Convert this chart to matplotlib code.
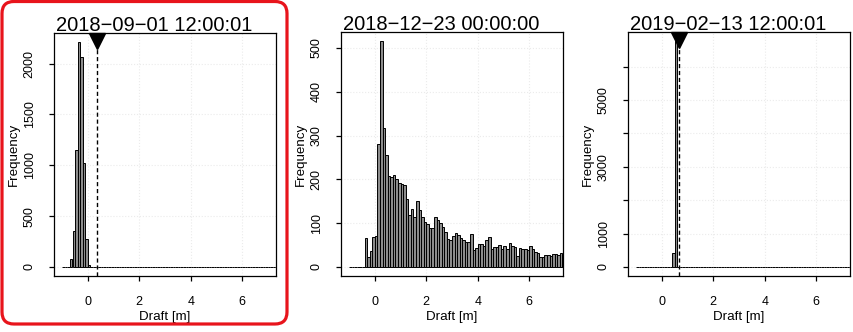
import numpy as np
import matplotlib
matplotlib.use("Agg")
import matplotlib.pyplot as plt
from matplotlib.patches import FancyBboxPatch
from matplotlib.transforms import IdentityTransform

plt.rcParams['font.family'] = ['Liberation Sans', 'DejaVu Sans']

# ---------------- data ----------------
titles = ["2018\u221209\u221201 12:00:01",
          "2018\u221212\u221223 00:00:00",
          "2019\u221202\u221213 12:00:01"]

bin_start = -1.0
bin_width = 0.1

counts_sep = [0, 0, 0,
              75, 358, 1146, 2213, 2066, 1021, 276, 20] + [0] * 73

counts_dec = [0, 0, 0, 0, 0, 0,
              66, 23, 37, 68, 70,
              281, 516, 318, 255, 208, 205, 210, 200, 192, 190,
              188, 155, 119, 132, 115, 150, 131, 115, 102, 98,
              89, 90, 113, 108, 100, 92, 80, 63, 62, 70,
              77, 73, 67, 62, 58, 57, 76, 39, 44, 53,
              52, 48, 62, 68, 40, 45, 45, 50, 40, 47,
              40, 55, 49, 45, 26, 43, 42, 40, 38, 47,
              42, 35, 31, 22, 23, 27, 28, 26, 29, 30,
              28, 32, 30]

counts_feb = [0] * 14 + [430, 6770] + [0] * 68

all_counts = [counts_sep, counts_dec, counts_feb]
level_marks = [0.36, None, 0.65]

xticks = [0, 2, 4, 6]
xtick_labels = ["0", "2", "4", "6"]
yticks_list = [[0, 500, 1000, 1500, 2000],
               [0, 100, 200, 300, 400, 500],
               [0, 1000, 2000, 3000, 4000, 5000, 6000]]
ytick_labels_list = [["0", "500", "1000", "1500", "2000"],
                     ["0", "100", "200", "300", "400", "500"],
                     ["0", "1000", "", "3000", "", "5000", ""]]
x_range = (-1.0, 7.0)

# ---------------- figure ----------------
W, H = 854, 332
fig = plt.figure(figsize=(W / 100, H / 100), dpi=100)

boxes = [(54, 33, 276, 276), (341, 32, 563, 276), (628, 32, 850, 276)]

for i, (l, t, r, b) in enumerate(boxes):
    ax = fig.add_axes([l / W, (H - b) / H, (r - l) / W, (b - t) / H])
    counts = np.array(all_counts[i])
    lefts = bin_start + bin_width * np.arange(len(counts))
    ax.set_axisbelow(True)
    ax.grid(True, color='#ebebeb', linestyle=':', linewidth=0.8)
    ax.bar(lefts, counts, width=bin_width, align='edge',
           color='#8c8c8c', edgecolor='black', linewidth=0.7, zorder=2)
    span = x_range[1] - x_range[0]
    ax.set_xlim(x_range[0] - 0.04 * span, x_range[1] + 0.04 * span)
    ymax = counts.max()
    ax.set_ylim(-0.04 * ymax, 1.04 * ymax)
    ax.set_xticks(xticks)
    ax.set_xticklabels(xtick_labels, fontsize=9)
    ax.set_yticks(yticks_list[i])
    ax.set_yticklabels(ytick_labels_list[i], fontsize=9, rotation=90, va='center')
    ax.tick_params(axis='x', direction='out', length=3.6, width=0.9, pad=11)
    ax.tick_params(axis='y', direction='out', length=3.6, width=0.9, pad=9.5)
    for s in ax.spines.values():
        s.set_linewidth(0.9)
    mk = level_marks[i]
    if mk is not None:
        ax.axvline(mk, color='black', linestyle=(0, (3, 2)), linewidth=1.0, zorder=3)
        ax.plot([mk], [0.967], marker='v', markersize=11, color='black',
                transform=ax.get_xaxis_transform(), clip_on=False, zorder=4)
    ax.text(0.452, 1.0 + 2.5 / 244, titles[i], transform=ax.transAxes,
            ha='center', va='baseline', fontsize=14.5)
    ax.text(-40 / 222, 0.5, "Frequency", transform=ax.transAxes, rotation=90,
            ha='center', va='center', fontsize=9.6)
    ax.text(0.5, -41 / 244, "Draft [m]", transform=ax.transAxes,
            ha='center', va='center', fontsize=9.6)

frame = FancyBboxPatch((2, 8), 285, 322.5,
                       boxstyle='round,pad=0,rounding_size=12',
                       transform=IdentityTransform(), fill=False,
                       edgecolor='#e8141c', linewidth=2.3)
fig.patches.append(frame)

fig.savefig("out.png", dpi=100)
